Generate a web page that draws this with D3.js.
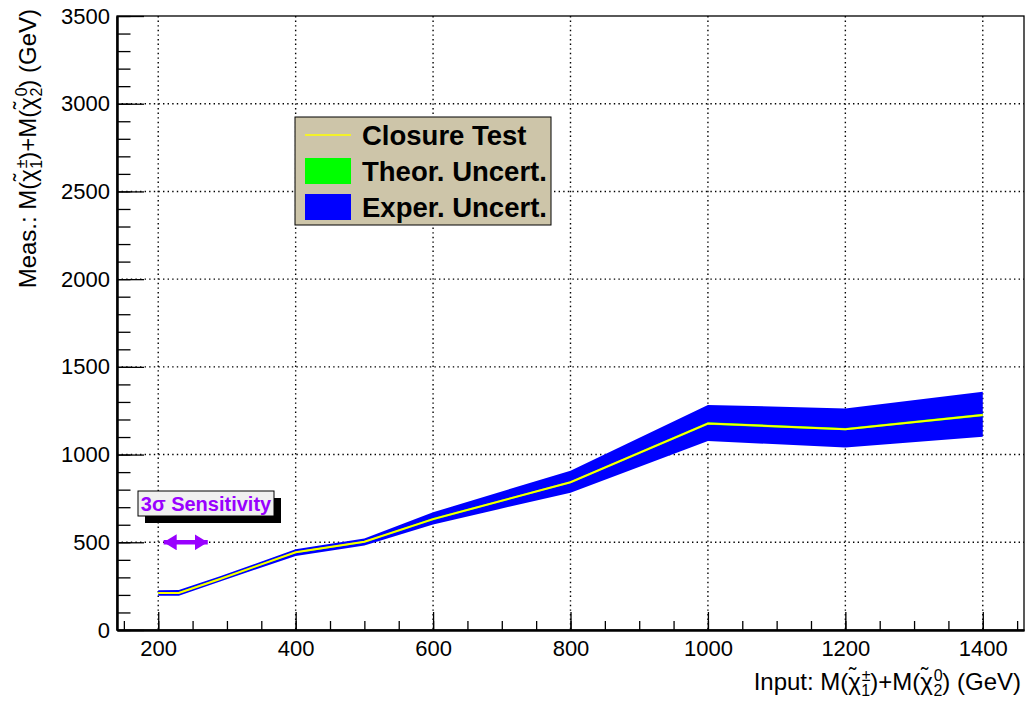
<!DOCTYPE html>
<html>
<head>
<meta charset="utf-8">
<script src="https://cdn.jsdelivr.net/npm/d3@7"></script>
<style>
  body { margin: 0; background: #fff; }
  svg { display: block; font-family: "Liberation Sans", Arial, sans-serif; }
</style>
</head>
<body>
<svg id="svg" width="1027" height="701"></svg>
<script>
// values
var inputMass = [200, 230, 290, 400, 500, 600, 800, 1000, 1200, 1400];
var closure   = [211, 211, 291, 443, 503, 632, 842, 1177, 1145, 1226];
var theorHi   = [216, 216, 296, 448, 508, 638, 848, 1184, 1152, 1233];
var theorLo   = [206, 206, 286, 438, 498, 626, 836, 1170, 1138, 1219];
var experHi   = [227, 228, 306, 460, 521, 671, 908, 1283, 1263, 1358];
var experLo   = [195, 195, 277, 422, 481, 602, 783, 1077, 1041, 1102];

var xMajor = [200, 400, 600, 800, 1000, 1200, 1400];
var yMajor = [0, 500, 1000, 1500, 2000, 2500, 3000, 3500];
var xMinor = d3.range(150, 1460, 50);
var yMinor = d3.range(0, 3501, 100);

var legendLabels = ["Closure Test", "Theor. Uncert.", "Exper. Uncert."];
var sensRange = [205, 275], sensLevel = 500;

var svg = d3.select("#svg"),
    defs = svg.append("defs");

var L = 117, R = 1024, T = 16, B = 630;
var x = d3.scaleLinear().domain([140, 1460]).range([L, R]),
    y = d3.scaleLinear().domain([0, 3500]).range([B, T]);

var pts = inputMass.map((m, i) => ({m: m, c: closure[i], th: theorHi[i], tl: theorLo[i], eh: experHi[i], el: experLo[i]}));

// grid
var grid = svg.append("g");
grid.selectAll().data(xMajor).enter().append("line")
    .attr("x1", d => x(d)).attr("x2", d => x(d)).attr("y1", T).attr("y2", B)
    .attr("stroke", "#000").attr("stroke-width", 1.4).attr("stroke-dasharray", "1.4 3.2");
grid.selectAll().data(yMajor.slice(1, -1)).enter().append("line")
    .attr("y1", d => y(d)).attr("y2", d => y(d)).attr("x1", L).attr("x2", R)
    .attr("stroke", "#000").attr("stroke-width", 1.4).attr("stroke-dasharray", "1.4 3.2");

// bands + line
svg.append("path").datum(pts)
    .attr("d", d3.area().x(d => x(d.m)).y0(d => y(d.el)).y1(d => y(d.eh)))
    .attr("fill", "#0000ff");
svg.append("path").datum(pts)
    .attr("d", d3.area().x(d => x(d.m)).y0(d => y(d.tl)).y1(d => y(d.th)))
    .attr("fill", "#00ff00");
svg.append("path").datum(pts)
    .attr("d", d3.line().x(d => x(d.m)).y(d => y(d.c)))
    .attr("fill", "none").attr("stroke", "#ffff00").attr("stroke-width", 2);

// frame
svg.append("rect").attr("x", L).attr("y", T).attr("width", R - L).attr("height", B - T)
    .attr("fill", "none").attr("stroke", "#000").attr("stroke-width", 1.3);

// axes
svg.append("g").attr("transform", "translate(0," + B + ")")
    .call(d3.axisBottom(x).tickValues(xMajor).tickSizeInner(-18).tickSizeOuter(0).tickPadding(10).tickFormat(d3.format("d")));
svg.append("g").attr("transform", "translate(0," + B + ")")
    .call(d3.axisBottom(x).tickValues(xMinor).tickSizeInner(-9).tickSizeOuter(0).tickFormat(""));
svg.append("g").attr("transform", "translate(" + L + ",0)")
    .call(d3.axisLeft(y).tickValues(yMajor).tickSizeInner(-27).tickSizeOuter(0).tickPadding(7).tickFormat(d3.format("d")));
svg.append("g").attr("transform", "translate(" + L + ",0)")
    .call(d3.axisLeft(y).tickValues(yMinor).tickSizeInner(-13.5).tickSizeOuter(0).tickFormat(""));

svg.selectAll(".domain").attr("stroke", "#000").attr("stroke-width", 2);
svg.selectAll(".tick line").attr("stroke", "#000").attr("stroke-width", 1.3);
svg.selectAll(".tick text").attr("font-size", 22).attr("font-family", "Liberation Sans, Arial, sans-serif").attr("fill", "#000");

// axis titles with chi-tilde symbols
function chiTilde(t, sup, sub) {
    t.append("tspan").text("\u03C7");
    t.append("tspan").attr("font-size", 22).attr("dx", -12).attr("dy", -7).text("\u02DC");
    t.append("tspan").attr("font-size", 16).attr("dx", 5.5).attr("dy", -2).text(sup);
    t.append("tspan").attr("font-size", 16).attr("dx", -9.2).attr("dy", 15).text(sub);
    return t.append("tspan").attr("dy", -6);
}
function massTitle(t, prefix) {
    t.append("tspan").text(prefix + "M(");
    chiTilde(t, "\u00B1", "1").text(")+M(");
    chiTilde(t, "0", "2").text(") (GeV)");
}
var xt = svg.append("text").attr("x", 1021).attr("y", 690).attr("text-anchor", "end").attr("font-size", 24);
massTitle(xt, "Input: ");
var yt = svg.append("text").attr("transform", "translate(36,9) rotate(-90)").attr("text-anchor", "end").attr("font-size", 24);
massTitle(yt, "Meas.: ");

// legend
var lg = svg.append("g").attr("transform", "translate(295,117)");
lg.append("rect").attr("width", 256).attr("height", 108).attr("fill", "#cdc5a9").attr("stroke", "#000").attr("stroke-width", 1);
var rowY = [18, 54, 90];
lg.append("line").attr("x1", 10).attr("x2", 56).attr("y1", rowY[0]).attr("y2", rowY[0]).attr("stroke", "#ffff00").attr("stroke-width", 1.5);
lg.append("rect").attr("x", 10).attr("y", rowY[1] - 13).attr("width", 46).attr("height", 26).attr("fill", "#00ff00");
lg.append("rect").attr("x", 10).attr("y", rowY[2] - 13).attr("width", 46).attr("height", 26).attr("fill", "#0000ff");
lg.selectAll().data(legendLabels).enter().append("text")
    .attr("x", 67).attr("y", (d, i) => rowY[i] + 9.5)
    .attr("font-size", 27.5).attr("font-weight", "bold").text(d => d);

// 3 sigma sensitivity label + arrow
var sb = svg.append("g").attr("transform", "translate(138,491)");
sb.append("rect").attr("x", 7).attr("y", 7).attr("width", 136).attr("height", 25).attr("fill", "#000");
sb.append("rect").attr("width", 136).attr("height", 25).attr("fill", "#f0f0f0").attr("stroke", "#000").attr("stroke-width", 1);
sb.append("text").attr("x", 68).attr("y", 19.5).attr("text-anchor", "middle").attr("font-size", 20)
    .attr("font-weight", "bold").attr("fill", "#9900ff").text("3\u03C3 Sensitivity");

defs.selectAll().data(["M0 0L13 8L0 16Z", "M13 0L0 8L13 16Z"]).enter()
    .append("marker").attr("id", (_, i) => "arr" + i)
    .attr("viewBox", "0 0 13 16").attr("markerWidth", 13).attr("markerHeight", 16)
    .attr("markerUnits", "userSpaceOnUse").attr("orient", "auto")
    .attr("refX", (_, i) => i ? 0 : 13).attr("refY", 8).attr("fill", "#9900ff")
    .append("path").attr("d", p => p);
svg.append("line")
    .attr("x1", x(sensRange[0]) + 2).attr("x2", x(sensRange[1]) - 2)
    .attr("y1", y(sensLevel)).attr("y2", y(sensLevel))
    .attr("stroke", "#9900ff").attr("stroke-width", 4.5)
    .attr("marker-start", "url(#arr1)").attr("marker-end", "url(#arr0)");
</script>
</body>
</html>
